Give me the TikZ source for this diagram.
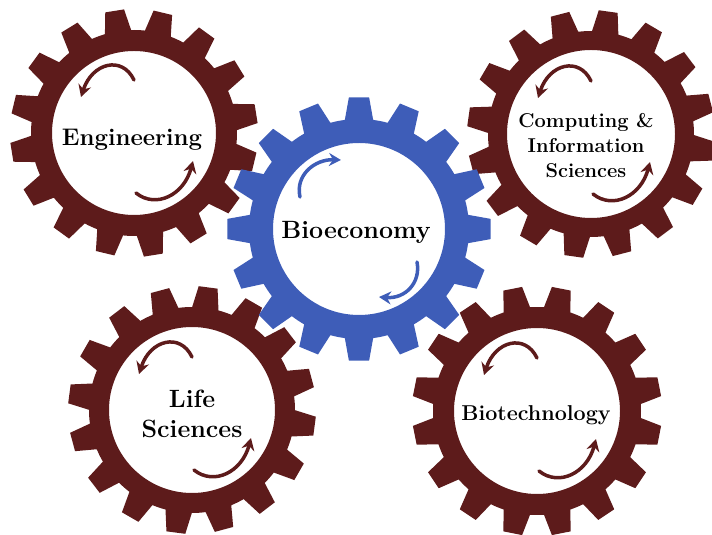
\documentclass[tikz,border=0pt]{standalone}
\usepackage{tikz}
\usetikzlibrary{arrows.meta}
\tikzset{>={Stealth[length=12pt,width=13pt,inset=4pt]}}

\definecolor{gearred}{RGB}{93,27,27}
\definecolor{gearblue}{RGB}{62,93,184}

% centre, tip radius, root radius, hole radius, first tooth angle, colour
\newcommand{\drawgear}[6]{%
  \fill[#6, even odd rule, shift={(#1)}] (#5-7.4:#3)
    \foreach \k in {0,...,15}{
      -- (#5+22.5*\k-7.4:#3) -- (#5+22.5*\k-4.4:#2)
      -- (#5+22.5*\k+4.4:#2) -- (#5+22.5*\k+7.4:#3)
      arc[start angle=#5+22.5*\k+7.4, end angle=#5+22.5*\k+15.1, radius=#3]
    } -- cycle (0,0) circle[radius=#4];}

\begin{document}
\begin{tikzpicture}[x=1pt, y=1pt, gearlabel/.style={align=center, inner sep=0pt, text=black}, redarrow/.style={->, draw=gearred, line width=3.5pt, line cap=round}, bluearrow/.style={->, draw=gearblue, line width=3.5pt, line cap=round}]
    \useasboundingbox (0,0) rectangle (712,535);
    \clip (0,0) rectangle (712,535);

    %Gear centres
    \coordinate (eng) at (134,402);
    \coordinate (comp) at (591,401);
    \coordinate (life) at (192,125);
    \coordinate (biot) at (537,124);
    \coordinate (bio) at (359,306);

    %Gears
    \drawgear{eng}{124}{103}{82}{9}{gearred}
    \drawgear{comp}{124}{103}{84}{14.5}{gearred}
    \drawgear{life}{124}{103}{83}{15}{gearred}
    \drawgear{biot}{125}{104}{83}{11.25}{gearred}
    \drawgear{bio}{132}{110}{86}{0}{gearblue}

    %Arrows
    \foreach \g in {eng,comp,life,biot}{
      \begin{scope}[shift={(\g)}]
        \draw[redarrow] (0,53) .. controls (-12,78) and (-42,70) .. (-53,36);
        \draw[redarrow] (2,-60) .. controls (22,-76) and (50,-62) .. (59,-28);
      \end{scope}
    }
    \begin{scope}[shift={(bio)}]
      \draw[bluearrow] (-59,32) .. controls (-64,54) and (-44,70) .. (-18,69);
      \draw[bluearrow] (58,-33) .. controls (62,-54) and (46,-70) .. (20,-68);
    \end{scope}

    %Labels
    \node[gearlabel, font=\bfseries\fontsize{24}{28}\selectfont] (engineering) at (132,395) {Engineering};
    \node[gearlabel, font=\bfseries\fontsize{20}{25}\selectfont] (computing) at (586,389) {Computing \&\\Information\\Sciences};
    \node[gearlabel, font=\bfseries\fontsize{25}{30}\selectfont] (lifesci) at (192,121) {Life\\Sciences};
    \node[gearlabel, font=\bfseries\fontsize{21.5}{26}\selectfont] (biotech) at (536,120) {Biotechnology};
    \node[gearlabel, font=\bfseries\fontsize{25}{30}\selectfont] (bioeconomy) at (356,303) {Bioeconomy};
\end{tikzpicture}
\end{document}
